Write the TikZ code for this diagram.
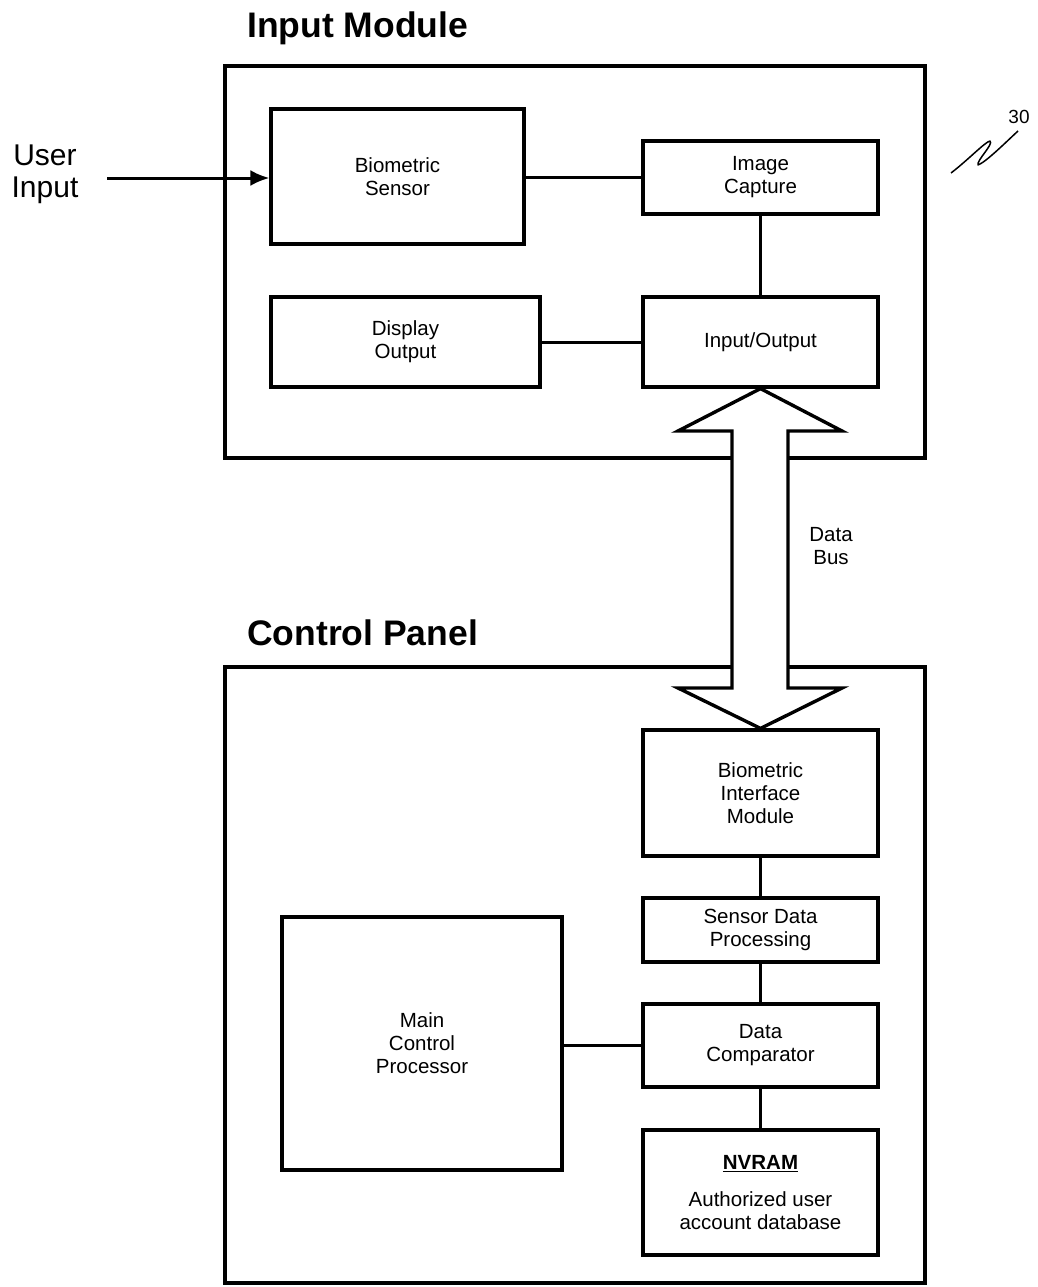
\documentclass[tikz,border=0pt]{standalone}
\usepackage{fontspec}
\setmainfont{Liberation Sans}
\usetikzlibrary{arrows.meta}
\tikzset{
  blk/.style={draw, line width=3.2pt, fill=white, align=center, inner sep=0pt,
              font=\fontsize{20.5}{23}\selectfont},
  frame/.style={draw, line width=3.2pt, inner sep=0pt},
  wire/.style={line width=3pt},
  heading/.style={font=\fontsize{35.5}{38}\selectfont\bfseries, anchor=west, inner sep=0pt},
  tag/.style={font=\fontsize{20.5}{23}\selectfont, align=center, inner sep=0pt}
}
\begin{document}
\begin{tikzpicture}[x=1pt, y=-1pt]
\useasboundingbox (0,0) rectangle (1037,1287);

% module frames
\node[frame, minimum width=700pt, minimum height=392pt] (im) at (575,262) {};
\node[frame, minimum width=700pt, minimum height=616pt] (cp) at (575,975) {};
\node[heading] (imt) at (247,28) {Input Module};
\node[heading] (cpt) at (247,633) {Control Panel};

% input module blocks
\node[blk, minimum width=253pt, minimum height=135pt] (bs) at (397.5,176.5) {Biometric\\Sensor};
\node[blk, minimum width=235pt, minimum height=73pt] (ic) at (760.5,177.5) {Image\\Capture};
\node[blk, minimum width=269pt, minimum height=90pt] (do) at (405.5,342) {Display\\Output};
\node[blk, minimum width=235pt, minimum height=90pt] (io) at (760.5,342) {Input/Output};

% control panel blocks
\node[blk, minimum width=235pt, minimum height=126pt] (bim) at (760.5,793) {Biometric\\Interface\\Module};
\node[blk, minimum width=235pt, minimum height=64pt] (sdp) at (760.5,930) {Sensor Data\\Processing};
\node[blk, minimum width=235pt, minimum height=83pt] (dc) at (760.5,1045.5) {Data\\Comparator};
\node[blk, minimum width=235pt, minimum height=125pt] (nv) at (760.5,1192.5) {\underline{\textbf{NVRAM}}\\[14pt]Authorized user\\account database};
\node[blk, minimum width=280pt, minimum height=253pt] (mcp) at (422,1043.5) {Main\\Control\\Processor};

% connections
\draw[wire] (ic.west -| bs.east) -- (ic.west);
\draw[wire] (ic.south) -- (io.north);
\draw[wire] (do.east) -- (io.west);
\draw[wire] (bim.south) -- (sdp.north);
\draw[wire] (sdp.south) -- (dc.north);
\draw[wire] (dc.south) -- (nv.north);
\draw[wire] (dc.west -| mcp.east) -- (dc.west);

% user input
\node[font=\fontsize{30}{32}\selectfont, align=center, inner sep=0pt] (ui) at (45,174) {User\\Input};
\coordinate (uis) at (107,178);
\draw[wire, -{Latex[length=19pt, width=16pt]}] (uis) -- (uis -| bs.west);

% data bus (double-headed block arrow)
\coordinate (hl1) at (678,431);
\coordinate (sl1) at (732,431);
\coordinate (sr1) at (788,431);
\coordinate (hr1) at (842,431);
\coordinate (hl2) at (678,688);
\coordinate (sl2) at (732,688);
\coordinate (sr2) at (788,688);
\coordinate (hr2) at (842,688);
\draw[line width=3.4pt, fill=white, line join=miter]
  (io.south) -- (hr1) -- (sr1) -- (sr2) -- (hr2) -- (bim.north)
  -- (hl2) -- (sl2) -- (sl1) -- (hl1) -- cycle;
\node[tag] (db) at (831,546) {Data\\Bus};

% reference numeral
\node[font=\fontsize{19}{21}\selectfont, inner sep=0pt] (ref) at (1019,117) {30};
\coordinate (q0) at (951,173);
\coordinate (q3) at (1018,131);
\draw[line width=1.5pt, line join=round]
  (q0) .. controls (968,160) and (985,142) .. (990,141)
  .. controls (994,144) and (976,161) .. (978,165)
  .. controls (986,162) and (1005,143) .. (q3);
\end{tikzpicture}
\end{document}
